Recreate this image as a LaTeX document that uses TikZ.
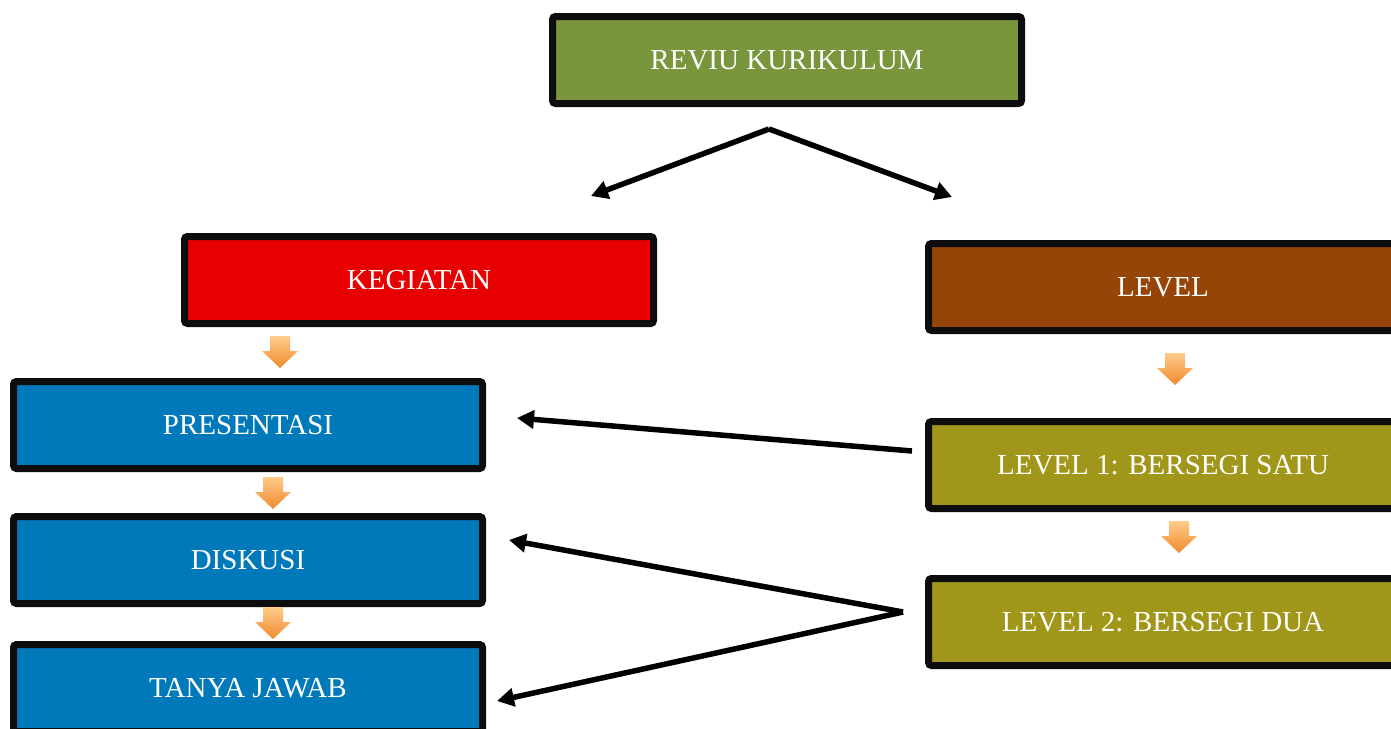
\documentclass[tikz,border=0pt]{standalone}
\usepackage{fontspec}
\setmainfont{Liberation Serif}
\usetikzlibrary{arrows.meta,shadows}
\definecolor{cgreen}{HTML}{7A963C}
\definecolor{cred}{HTML}{E80000}
\definecolor{cbrown}{HTML}{964508}
\definecolor{cblue}{HTML}{0079BA}
\definecolor{colive}{HTML}{A09619}
\definecolor{corgtop}{HTML}{FFCB8A}
\definecolor{corgbot}{HTML}{F08A2E}
\tikzset{
  box/.style={draw=black!95, line width=7pt, rounded corners=3pt, minimum width=469pt, minimum height=87pt,
    text=white, font=\fontsize{29}{33}\selectfont, inner sep=0pt,
    drop shadow={shadow xshift=2pt, shadow yshift=-3pt, opacity=0.25, fill=black}},
  conn/.style={line width=5.5pt, -{Triangle[length=17pt,width=18pt]}, shorten >=0pt},
  orgarrow/.style={top color=corgtop, bottom color=corgbot, draw=none}
}
\newcommand{\orgdown}[2]{%
  \path[orgarrow] (#1-10,#2-16) -- (#1+10,#2-16) -- (#1+10,#2-1) -- (#1+18,#2-1) -- (#1,#2+16) -- (#1-18,#2-1) -- (#1-10,#2-1) -- cycle;}
\begin{document}
\begin{tikzpicture}[x=1pt,y=-1pt]
\useasboundingbox (0,0) rectangle (1391,728);
\fill[white] (0,0) rectangle (1391,728);
\node[box, fill=cgreen] (reviu) at (787,60) {REVIU KURIKULUM};
\node[box, fill=cred] (kegiatan) at (419,280) {KEGIATAN};
\node[box, fill=cbrown] (level) at (1163,287) {LEVEL};
\node[box, fill=cblue] (pres) at (248,425) {PRESENTASI};
\node[box, fill=cblue] (disk) at (248,560) {DISKUSI};
\node[box, fill=cblue] (tanya) at (248,688) {TANYA JAWAB};
\node[box, fill=colive] (lv1) at (1163,465) {LEVEL 1: BERSEGI SATU};
\node[box, fill=colive] (lv2) at (1163,622) {LEVEL 2: BERSEGI DUA};
\coordinate (apex) at (769,129);
\coordinate (kl) at (591,196);
\coordinate (kr) at (952,197);
\coordinate (s1) at (912,451);
\coordinate (e1) at (517,418);
\coordinate (s2) at (903,612);
\coordinate (e2) at (509,540);
\coordinate (e3) at (497,701);
\draw[conn] (apex) -- (kl);
\draw[conn] (apex) -- (kr);
\draw[conn] (s1) -- (e1);
\draw[conn] (s2) -- (e2);
\draw[conn] (s2) -- (e3);
\orgdown{280}{352}
\orgdown{1175}{369}
\orgdown{273}{493}
\orgdown{1179}{537}
\orgdown{273}{623}
\end{tikzpicture}
\end{document}
